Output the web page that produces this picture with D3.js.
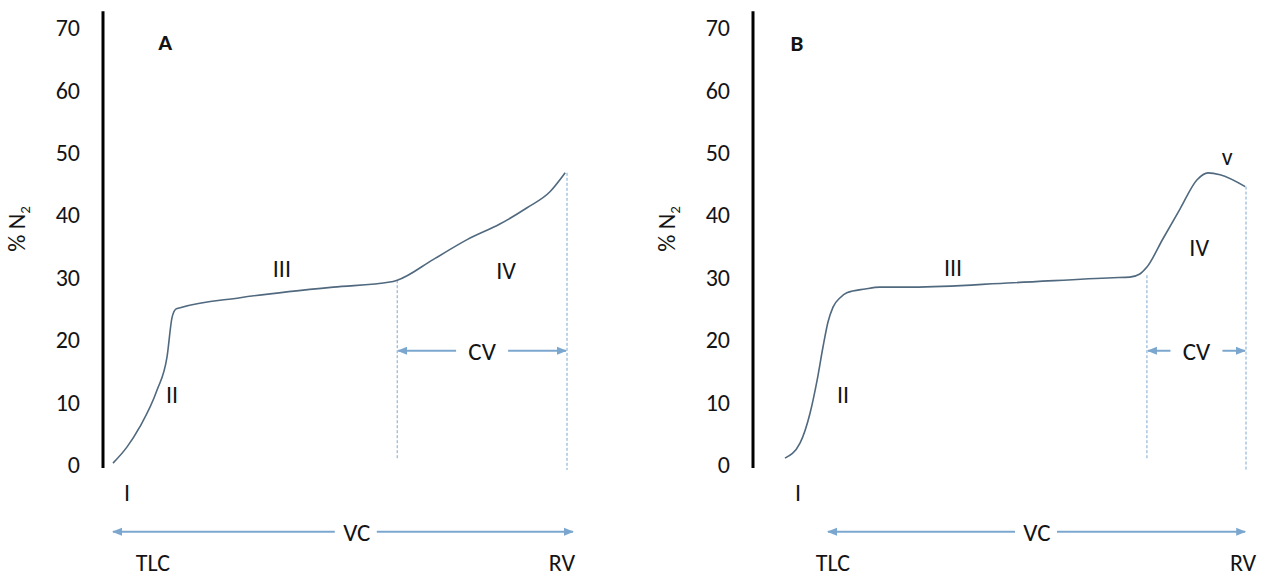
<!DOCTYPE html>
<html>
<head>
<meta charset="utf-8">
<script src="https://cdn.jsdelivr.net/npm/d3@7"></script>
<style>
  body { margin: 0; background: #fff; }
  text { font-family: Carlito, Lato, "Open Sans", sans-serif; fill: #141414; }
</style>
</head>
<body>
<svg id="chart" width="1265" height="579"></svg>
<script>
// y axis ticks (% N2)
const yTicks = [0, 10, 20, 30, 40, 50, 60, 70];

// panel A: volume expired (% of VC, TLC -> RV) and % N2
const volA = [0, 3.1, 5.9, 9.7, 11.9, 13.0, 13.9, 14.8, 28.0, 48.5, 61.0, 62.6, 70.5, 78.0, 85.2, 91.2, 96.3, 99.6];
const n2A  = [0.3, 2.9, 6.1, 12.0, 17.3, 23.6, 25.0, 25.2, 26.8, 28.5, 29.3, 29.6, 32.9, 36.1, 38.6, 41.2, 43.8, 46.8];

// panel B
const volB = [-10.3, -6.7, -4.3, -2.6, -1.2, 0, 1.2, 2.9, 4.5, 8.9, 12.4, 20.3, 44.3, 68.2, 72.2, 74.6, 76.3, 80.1, 84.2, 88.3, 90.9, 93.8, 99.8];
const n2B  = [1.1, 3.5, 8.3, 13.6, 18.9, 22.9, 25.3, 26.8, 27.6, 28.2, 28.5, 28.5, 29.2, 30.0, 30.1, 30.6, 31.7, 36.2, 41.0, 45.7, 46.8, 46.5, 44.6];

// phase labels
const stagesA = ["I", "II", "III", "IV"];
const stagesB = ["I", "II", "III", "IV", "v"];

// closing volume onset, RV end
const closingA = 62.6, closingB = 76.3;
const rvEndA = 46.8, rvEndB = 44.6;

const svg = d3.select("#chart");
svg.append("rect").attr("width", 1265).attr("height", 579).attr("fill", "#fff");

const blue = "#7ba7cf";
const curveCol = "#50697f";

const defs = svg.append("defs");
defs.append("marker")
  .attr("id", "arr-end")
  .attr("viewBox", "0 0 10 10")
  .attr("refX", 9).attr("refY", 5)
  .attr("markerWidth", 5).attr("markerHeight", 5)
  .attr("markerUnits", "strokeWidth")
  .attr("orient", "auto")
  .append("path")
  .attr("d", "M0,1 L10,5 L0,9 Z")
  .attr("fill", blue);

var y = d3.scaleLinear().domain([0, 70]).range([465, 28]);

const panels = [
  { name: "A", axisX: 103, range: [113, 567], vol: volA, n2: n2A, stages: stagesA,
    stagePos: [[3.1, -4.5], [13, 11.2], [37.2, 31.4], [86.6, 31.1]],
    namePos: [11.5, 67.8], closing: closingA, rvEnd: rvEndA, closingTop: 29.6,
    vcText: 53.7, vcEnd: 101.3, tlc: 8.8, rv: 98.9 },
  { name: "B", axisX: 753, range: [828, 1246], vol: volB, n2: n2B, stages: stagesB,
    stagePos: [[-7.2, -4.5], [3.6, 11.2], [29.9, 31.6], [88.8, 34.9], [95.5, 49.4]],
    namePos: [-7.4, 67.6], closing: closingB, rvEnd: rvEndB, closingTop: 30.4,
    vcText: 50, vcEnd: 99.8, tlc: 1.2, rv: 99.3 }
];

panels.forEach(p => {
  var x = d3.scaleLinear().domain([0, 100]).range(p.range);
  var g = svg.append("g");

  // y axis labels
  var ax = g.append("g")
    .attr("transform", "translate(" + p.axisX + ",0)")
    .call(d3.axisLeft(y).tickValues(yTicks).tickSize(0).tickPadding(23));
  ax.select(".domain").remove();
  ax.selectAll("text").attr("font-size", 24).style("font-family", "Carlito, Lato, 'Open Sans', sans-serif").attr("fill", "#141414");

  // axis line
  g.append("line")
    .attr("x1", p.axisX).attr("x2", p.axisX)
    .attr("y1", y(-0.5)).attr("y2", y(72.7))
    .attr("stroke", "#000").attr("stroke-width", 3);

  // y title
  var yt = g.append("text")
    .attr("transform", "translate(" + (p.axisX - 78) + "," + y(37.8) + ") rotate(-90)")
    .attr("text-anchor", "middle")
    .attr("font-size", 24);
  yt.append("tspan").text("% N");
  yt.append("tspan").attr("font-size", 15).attr("dy", 5).text("2");

  // dashed guides
  [[p.closing, p.closingTop, 0.8], [100, p.rvEnd, -0.8]].forEach(d => {
    g.append("line")
      .attr("x1", x(d[0])).attr("x2", x(d[0]))
      .attr("y1", y(d[1])).attr("y2", y(d[2]))
      .attr("stroke", blue).attr("stroke-width", 1)
      .attr("stroke-dasharray", "3,2");
  });

  // washout curve
  var pts = p.vol.map((v, i) => ({ v: v, n: p.n2[i] }));
  var line = d3.line()
    .x(d => x(d.v))
    .y(d => y(d.n))
    .curve(d3.curveMonotoneX);
  g.append("path")
    .attr("d", line(pts))
    .attr("fill", "none")
    .attr("stroke", curveCol)
    .attr("stroke-width", 1.6);

  // CV arrow
  var cvMid = (p.closing + 100) / 2;
  var cvY = y(18.3);
  var half = 26;
  g.append("line")
    .attr("x1", x(cvMid) - half).attr("x2", x(p.closing) + 1)
    .attr("y1", cvY).attr("y2", cvY)
    .attr("stroke", blue).attr("stroke-width", 2)
    .attr("marker-end", "url(#arr-end)");
  g.append("line")
    .attr("x1", x(cvMid) + half).attr("x2", x(100) - 1)
    .attr("y1", cvY).attr("y2", cvY)
    .attr("stroke", blue).attr("stroke-width", 2)
    .attr("marker-end", "url(#arr-end)");
  g.append("text")
    .attr("x", x(cvMid)).attr("y", cvY)
    .attr("dy", "0.35em")
    .attr("text-anchor", "middle")
    .attr("font-size", 25)
    .text("CV");

  // VC arrow
  var vcY = y(-10.7);
  g.append("line")
    .attr("x1", x(p.vcText) - 22).attr("x2", x(0))
    .attr("y1", vcY).attr("y2", vcY)
    .attr("stroke", blue).attr("stroke-width", 2)
    .attr("marker-end", "url(#arr-end)");
  g.append("line")
    .attr("x1", x(p.vcText) + 20).attr("x2", x(p.vcEnd))
    .attr("y1", vcY).attr("y2", vcY)
    .attr("stroke", blue).attr("stroke-width", 2)
    .attr("marker-end", "url(#arr-end)");
  g.append("text")
    .attr("x", x(p.vcText)).attr("y", vcY)
    .attr("dy", "0.35em")
    .attr("text-anchor", "middle")
    .attr("font-size", 25)
    .text("VC");

  // TLC / RV
  [["TLC", p.tlc], ["RV", p.rv]].forEach(d => {
    g.append("text")
      .attr("x", x(d[1])).attr("y", y(-15.8))
      .attr("dy", "0.3em")
      .attr("text-anchor", "middle")
      .attr("font-size", 24)
      .text(d[0]);
  });

  // phase labels
  p.stages.forEach((s, i) => {
    g.append("text")
      .attr("x", x(p.stagePos[i][0])).attr("y", y(p.stagePos[i][1]))
      .attr("dy", "0.35em")
      .attr("text-anchor", "middle")
      .attr("font-size", 24)
      .attr("fill", i < 2 ? "#2a1a2c" : "#141414")
      .text(s);
  });

  // panel name
  g.append("text")
    .attr("x", x(p.namePos[0])).attr("y", y(p.namePos[1]))
    .attr("dy", "0.35em")
    .attr("text-anchor", "middle")
    .attr("font-size", 23)
    .attr("font-weight", "bold")
    .text(p.name);
});
</script>
</body>
</html>
